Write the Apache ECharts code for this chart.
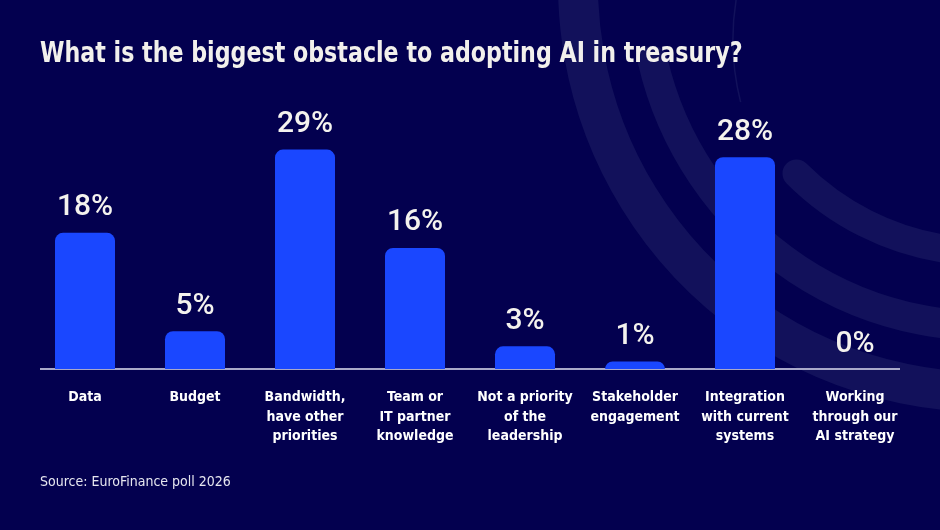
<!DOCTYPE html>
<html>
<head>
<meta charset="utf-8">
<script src="https://cdn.jsdelivr.net/npm/echarts@6/dist/echarts.min.js"></script>
<style>
    html, body { margin: 0; padding: 0; background: #03004f; }
    #chart { width: 940px; height: 530px; }
</style>
</head>
<body>
<div id="chart"></div>
<script>
var categories = [
    "Data",
    "Budget",
    "Bandwidth,\nhave other\npriorities",
    "Team or\nIT partner\nknowledge",
    "Not a priority\nof the\nleadership",
    "Stakeholder\nengagement",
    "Integration\nwith current\nsystems",
    "Working\nthrough our\nAI strategy"
];
var shares = [18, 5, 29, 16, 3, 1, 28, 0];

var titleText = "What is the biggest obstacle to adopting AI in treasury?";
var sourceText = "Source: EuroFinance poll 2026";

var narrow = "'DejaVu Sans Condensed', 'Liberation Sans', sans-serif";

var chart = echarts.init(document.getElementById('chart'));

// 배경 원호 (장식)
var arcColor = "#12115b";
var decor = [
    { r: 408, w: 40, a0: 80, a1: 200 },
    { r: 342, w: 30, a0: 80, a1: 167 },
    { r: 268, w: 28, a0: 60, a1: 135 }
];
var graphics = [];
decor.forEach(function(d) {
    graphics.push({
        type: 'arc',
        z: 0,
        silent: true,
        shape: { cx: 986, cy: -16, r: d.r, startAngle: d.a0 * Math.PI / 180, endAngle: d.a1 * Math.PI / 180, clockwise: true },
        style: { stroke: arcColor, lineWidth: d.w, fill: null, lineCap: 'round' }
    });
});
graphics.push({
    type: 'arc',
    z: 0,
    silent: true,
    shape: { cx: 990, cy: 40, r: 257, startAngle: 166 * Math.PI / 180, endAngle: 195 * Math.PI / 180, clockwise: true },
    style: { stroke: arcColor, lineWidth: 1.5, fill: null }
});

// 제목 (좁은 글꼴 흉내: 가로 축소)
graphics.push({
    type: 'text',
    z: 10,
    silent: true,
    x: 40,
    y: 40,
    scaleX: 0.85,
    style: {
        text: titleText,
        fill: '#f2f0ec',
        font: "bold 29px 'DejaVu Sans Condensed', sans-serif",
        verticalAlign: 'top'
    }
});

var option = {
    backgroundColor: '#03004f',
    animation: false,
    title: [
        {
            text: sourceText,
            left: 40,
            top: 475,
            padding: 0,
            textStyle: { color: '#e6e6ef', fontFamily: narrow, fontWeight: 'normal', fontSize: 14 }
        }
    ],
    graphic: graphics,
    grid: {
        left: 30,
        right: 30,
        top: 142,
        bottom: 161,
        containLabel: false
    },
    xAxis: {
        type: 'category',
        data: categories,
        axisLine: { show: false },
        axisTick: { show: false },
        axisLabel: {
            interval: 0,
            margin: 19,
            color: '#ffffff',
            fontFamily: narrow,
            fontWeight: 'bold',
            fontSize: 14,
            lineHeight: 19.5
        }
    },
    yAxis: {
        type: 'value',
        min: 0,
        max: 30,
        show: false,
        splitLine: { show: false }
    },
    series: [
        {
            type: 'bar',
            data: shares,
            barWidth: 60,
            itemStyle: { color: '#1a47ff', borderRadius: [8, 8, 0, 0] },
            label: {
                show: true,
                position: 'top',
                distance: 10,
                formatter: '{c}%',
                color: '#f4f2ee',
                fontFamily: 'Roboto, sans-serif',
                fontWeight: 500,
                fontSize: 30
            }
        }
    ]
};
chart.setOption(option);

// 기준선
var baseY = chart.convertToPixel({ yAxisIndex: 0 }, 0);
chart.setOption({
    graphic: graphics.concat([{
        type: 'line',
        z: 1,
        silent: true,
        shape: { x1: 40, y1: baseY, x2: 900, y2: baseY },
        style: { stroke: '#a9a9c9', lineWidth: 2 }
    }])
});
</script>
</body>
</html>
